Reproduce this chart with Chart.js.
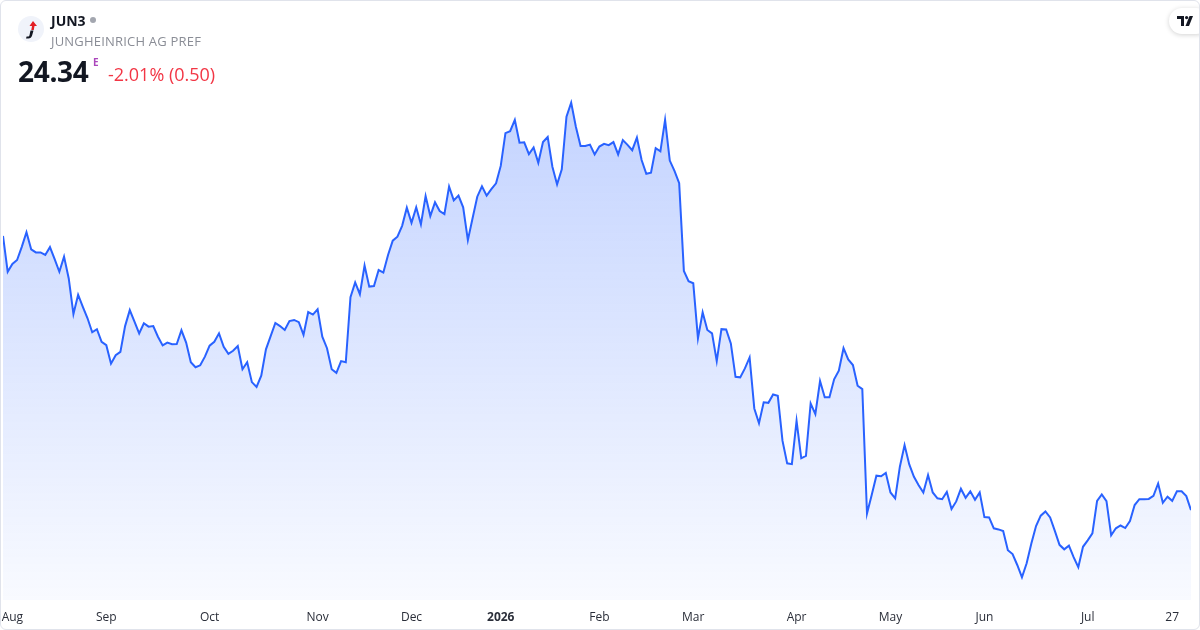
<!DOCTYPE html>
<html>
<head>
<meta charset="utf-8">
<script src="https://cdn.jsdelivr.net/npm/chart.js@4.4.1/dist/chart.umd.min.js"></script>
<style>
  html, body { margin: 0; padding: 0; background: #fff; }
  body { width: 1200px; height: 630px; overflow: hidden; font-family: "Open Sans", "Noto Sans", sans-serif; }
  .card { position: absolute; left: 0; top: 0; width: 1198px; height: 628px; border: 1px solid #e0e3eb; border-radius: 6px; overflow: hidden; }
  .chart-wrap { position: absolute; left: -1px; top: -1px; width: 1200px; height: 630px; }
  .logo { position: absolute; left: 17px; top: 15px; width: 26px; height: 26px; }
  .sym { position: absolute; left: 50px; top: 10px; font-size: 14px; font-weight: 700; color: #131722; }
  .dot { position: absolute; left: 89px; top: 16px; width: 6px; height: 6px; border-radius: 50%; background: #a3a6af; }
  .name { position: absolute; left: 50px; top: 31px; font-size: 13px; color: #8a8d96; letter-spacing: 0.2px; }
  .price { position: absolute; left: 17px; top: 51px; font-size: 28px; font-weight: 700; color: #131722; letter-spacing: -0.3px; }
  .e { position: absolute; left: 92px; top: 54px; font-size: 10px; font-weight: 700; color: #ab47bc; }
  .chg { position: absolute; left: 107px; top: 61px; font-size: 18px; color: #f23645; }
  .tv { position: absolute; left: 1168px; top: 7px; width: 40px; height: 26px; border-radius: 13px; background: #fff; box-shadow: 0 1px 5px rgba(0,0,0,0.18); }
  .tv svg { position: absolute; left: 8px; top: 8px; }
</style>
</head>
<body>
<div class="card">
  <div class="chart-wrap"><canvas id="chart" width="1200" height="630"></canvas></div>
  <svg class="logo" viewBox="0 0 26 26">
    <circle cx="13" cy="13" r="13" fill="#f0f3fa"/>
    <path d="M15 5 L19 10 L16.5 10 L15.8 14 L13.3 14 L14 10 L11.5 10 Z" fill="#e31e24"/>
    <path d="M12.5 14.5 h3 l-1.4 5 q-0.9 3 -3.8 3 h-2.3 l0.6 -2 h1.6 q1 0 1.3 -1.2 Z" fill="#131722"/>
  </svg>
  <div class="sym">JUN3</div>
  <div class="dot"></div>
  <div class="name">JUNGHEINRICH AG PREF</div>
  <div class="price">24.34</div>
  <div class="e">E</div>
  <div class="chg">-2.01% (0.50)</div>
  <div class="tv">
    <svg width="16" height="10" viewBox="0 0 16 10">
      <path d="M0 0 H7 V10 H4 V3 H0 Z" fill="#131722"/>
      <circle cx="9.6" cy="1.6" r="1.6" fill="#131722"/>
      <path d="M12.5 0 H16 L12 10 H8.5 Z" fill="#131722"/>
    </svg>
  </div>
</div>
<script>
// daily closes (last = 24.34, prev = 24.84)
var prices = [
  34.13, 32.85, 33.13, 33.27, 33.74, 34.26, 33.65, 33.54, 33.54, 33.45,
  33.73, 33.30, 32.85, 33.39, 32.61, 31.34, 32.03, 31.60, 31.19, 30.69,
  30.80, 30.35, 30.23, 29.57, 29.87, 29.99, 30.91, 31.48, 31.07, 30.65,
  31.01, 30.89, 30.91, 30.53, 30.22, 30.32, 30.26, 30.27, 30.76, 30.32,
  29.62, 29.44, 29.51, 29.82, 30.21, 30.35, 30.65, 30.17, 29.92, 30.03,
  30.20, 29.37, 29.62, 28.91, 28.74, 29.14, 30.08, 30.55, 31.02, 30.91,
  30.77, 31.09, 31.13, 31.05, 30.60, 31.41, 31.32, 31.51, 30.53, 30.12,
  29.37, 29.24, 29.66, 29.62, 31.94, 32.47, 32.05, 33.07, 32.32, 32.34,
  32.91, 32.82, 33.45, 33.96, 34.10, 34.49, 35.14, 34.60, 35.15, 34.54,
  35.55, 34.84, 35.33, 35.02, 34.91, 35.89, 35.40, 35.57, 35.15, 33.98,
  34.76, 35.53, 35.90, 35.57, 35.80, 36.01, 36.63, 37.80, 37.87, 38.27,
  37.46, 37.47, 37.05, 37.29, 36.74, 37.48, 37.66, 36.60, 35.97, 36.51,
  38.39, 38.89, 38.03, 37.34, 37.34, 37.39, 37.04, 37.32, 37.42, 37.37,
  37.48, 37.04, 37.55, 37.38, 37.19, 37.64, 36.84, 36.35, 36.39, 37.26,
  37.15, 38.27, 36.82, 36.45, 36.01, 32.88, 32.51, 32.44, 30.47, 31.40,
  30.77, 30.65, 29.66, 30.80, 30.79, 30.29, 29.10, 29.08, 29.40, 29.79,
  27.97, 27.44, 28.19, 28.17, 28.47, 28.42, 26.82, 26.01, 25.98, 27.53,
  26.19, 26.28, 28.15, 27.77, 28.95, 28.37, 28.37, 29.01, 29.32, 30.12,
  29.72, 29.52, 28.78, 28.66, 24.22, 24.88, 25.57, 25.55, 25.67, 24.97,
  24.76, 25.89, 26.66, 25.97, 25.53, 25.23, 24.97, 25.59, 24.97, 24.76,
  24.73, 24.99, 24.38, 24.65, 25.10, 24.78, 25.01, 24.71, 24.97, 24.09,
  24.08, 23.69, 23.65, 23.59, 22.91, 22.77, 22.38, 21.94, 22.44, 23.15,
  23.77, 24.14, 24.29, 24.08, 23.60, 23.10, 22.94, 23.07, 22.66, 22.30,
  23.03, 23.26, 23.51, 24.67, 24.90, 24.66, 23.44, 23.69, 23.79, 23.70,
  23.95, 24.52, 24.73, 24.73, 24.74, 24.85, 25.29, 24.60, 24.82, 24.67,
  25.01, 25.01, 24.84, 24.34
];

// tick labels and the trading-day index they sit on
var tickLabels = ["Aug", "Sep", "Oct", "Nov", "Dec", "2026", "Feb", "Mar", "Apr", "May", "Jun", "Jul", "27"];
var tickIndex = [2, 22, 44, 67, 87, 106, 127, 147, 169, 189, 209, 231, 249];

var points = [];
for (var i = 0; i < prices.length; i++) {
  points.push({ x: i, y: prices[i] });
}

function areaFill(context) {
  var chart = context.chart;
  var area = chart.chartArea;
  if (!area) return "rgba(41,98,255,0.1)";
  var top = chart.scales.y.getPixelForValue(Math.max.apply(null, prices));
  var g = chart.ctx.createLinearGradient(0, top, 0, area.bottom);
  g.addColorStop(0, "rgba(41,98,255,0.28)");
  g.addColorStop(1, "rgba(41,98,255,0.03)");
  return g;
}

const config = {
  type: "line",
  data: {
    datasets: [
      {
        data: points,
        borderColor: "#2962ff",
        borderWidth: 2,
        backgroundColor: areaFill,
        fill: "start",
        pointRadius: 0,
        tension: 0,
      },
    ],
  },
  options: {
    responsive: false,
    animation: false,
    layout: { padding: { left: 3, right: 9, top: 90, bottom: 0 } },
    plugins: { legend: { display: false }, tooltip: { enabled: false } },
    scales: {
      x: {
        type: "linear",
        min: 0,
        max: prices.length - 1,
        grid: { display: false, drawTicks: false },
        border: { display: false },
        afterBuildTicks: function (scale) {
          scale.ticks = tickIndex.map(function (v) { return { value: v }; });
        },
        afterFit: function (scale) {
          // labels sit inside the plot width, no extra edge padding
          scale.paddingLeft = 0;
          scale.paddingRight = 0;
          scale.height = 30;
        },
        ticks: {
          autoSkip: false,
          maxRotation: 0,
          padding: 10,
          color: "#2a2e39",
          font: function (ctx) {
            var bold = ctx.tick && ctx.tick.label === "2026";
            return { family: "'Open Sans', sans-serif", size: 12, weight: bold ? "bold" : "normal" };
          },
          callback: function (v) {
            var k = tickIndex.indexOf(v);
            return k < 0 ? "" : tickLabels[k];
          },
        },
      },
      y: {
        display: false,
        min: 21.13,
        max: 39.34,
      },
    },
  },
};

_ = new Chart(document.getElementById("chart"), config);
</script>
</body>
</html>
